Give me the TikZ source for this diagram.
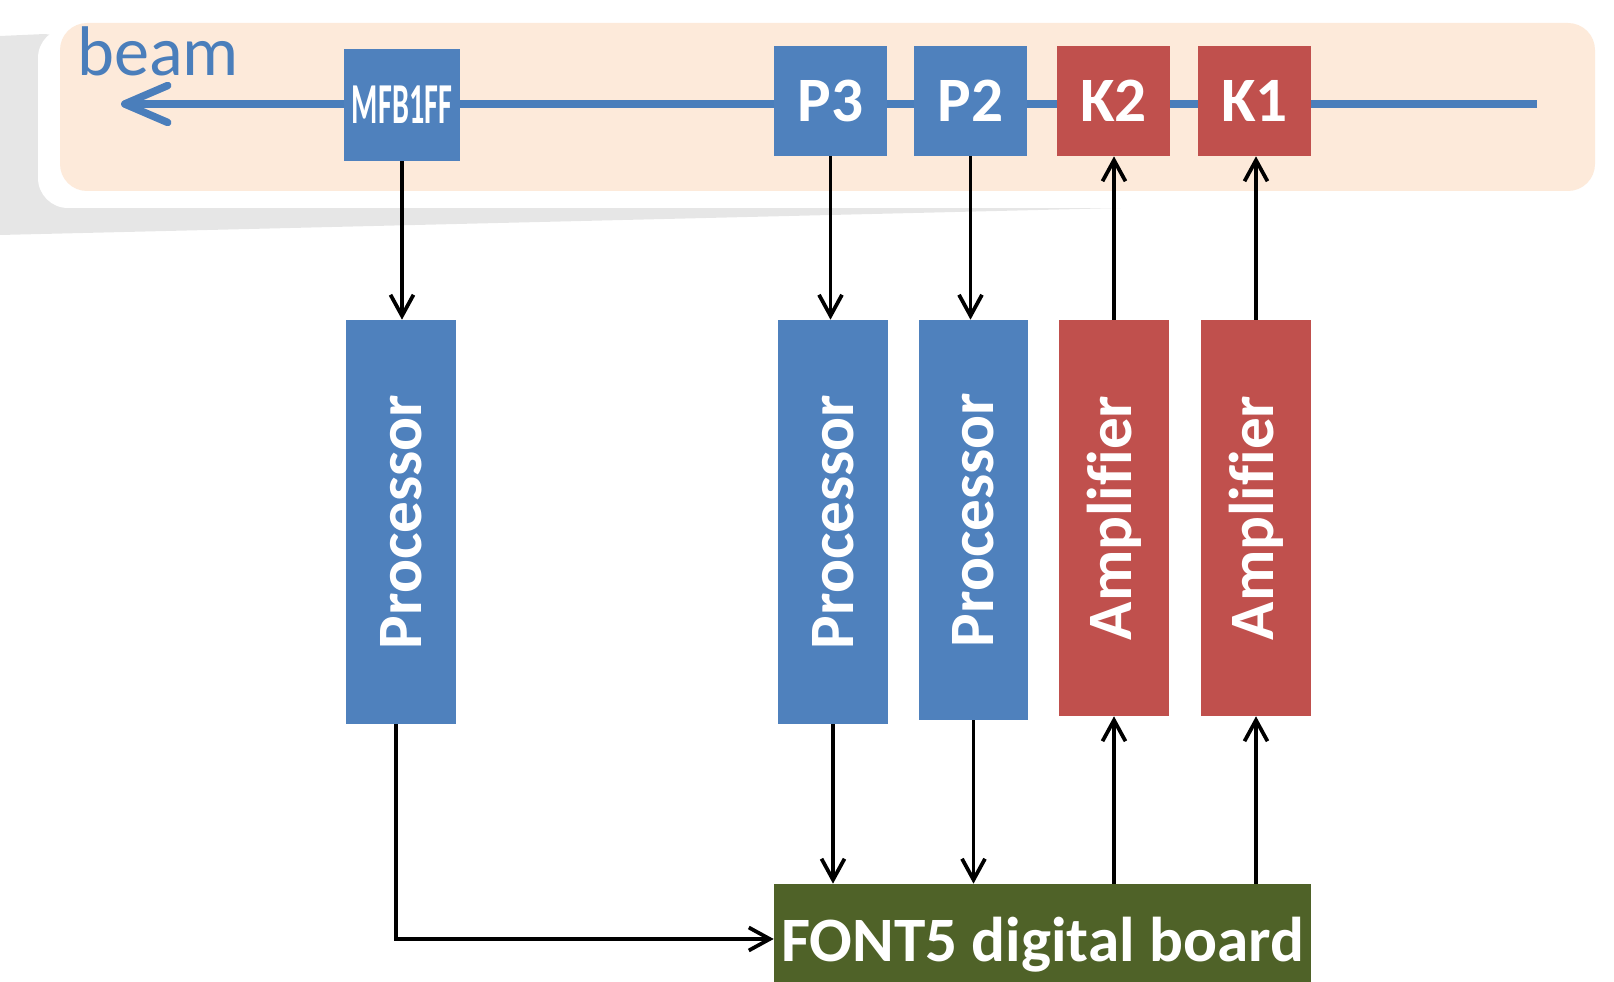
\documentclass[tikz,border=0pt]{standalone}
\usepackage{fontspec}
\setmainfont{Carlito}[Ligatures=CommonOff]
\usetikzlibrary{arrows.meta}
\definecolor{beamblue}{HTML}{4A7EBB}
\definecolor{boxblue}{HTML}{4F81BD}
\definecolor{boxred}{HTML}{C0504D}
\definecolor{boardgreen}{HTML}{4F6228}
\definecolor{beamzone}{HTML}{FDEADA}
\definecolor{shadegray}{HTML}{E6E6E6}

\begin{document}
\begin{tikzpicture}[x=0.02cm,y=-0.02cm,
    lbl/.style={text=white, inner sep=0pt, font=\fontsize{36}{40}\selectfont\bfseries},
    blk/.style={lbl, fill=#1},
    sig/.style={line width=0.075cm, -{Straight Barb[length=0.42cm,width=0.46cm]}}]
  \useasboundingbox (0,0) rectangle (1614,982);
  % beam line area
  \fill[shadegray] (0,36) -- (45,34) -- (1163,207) -- (0,235) -- cycle;
  \fill[white, rounded corners=0.6cm] (38,28) rectangle (1610,208);
  \fill[beamzone, rounded corners=0.54cm] (60,23) rectangle (1595,191);
  \coordinate (beamin) at (1537,104);
  \coordinate (beamout) at (121,104);
  \draw[beamblue, line width=0.15cm, -{Straight Barb[length=0.86cm,width=0.74cm,round]}] (beamin) -- (beamout);
  \node[anchor=base west, text=beamblue, inner sep=0pt, font=\fontsize{40}{44}\selectfont] (beamlbl) at (77,76) {beam};
  % monitors and kickers
  \node[blk=boxblue, minimum width=2.32cm, minimum height=2.24cm] (mfb) at (402,105) {\scalebox{0.52}[1]{\fontsize{33}{36}\selectfont MFB1FF}};
  \foreach \nm/\x/\col in {P3/830.5/boxblue, P2/970.5/boxblue, K2/1113.5/boxred, K1/1254.5/boxred}
    \node[blk=\col, minimum width=2.26cm, minimum height=2.2cm] (\nm) at (\x,101) {\nm};
  % electronics
  \foreach \nm/\x/\y/\h/\txt/\col in {
      procM/401/522/8.08/Processor/boxblue,
      procP3/833/522/8.08/Processor/boxblue,
      procP2/973.5/520/8.0/Processor/boxblue,
      ampK2/1114/518/7.92/Amplifier/boxred,
      ampK1/1256/518/7.92/Amplifier/boxred} {
    \node[blk=\col, minimum width=2.2cm, minimum height=\h cm] (\nm) at (\x,\y) {};
    \node[lbl, rotate=90] (\nm txt) at (\nm) {\txt};
  }
  \node[blk=boardgreen, minimum width=10.74cm, text height=1.56cm, text depth=0.4cm] (board) at (1042.5,933) {FONT5 digital board};
  % signals
  \foreach \a/\b in {mfb/procM, P3/procP3, P2/procP2}
    \draw[sig] (\a.south) -- (\a.south |- \b.north);
  \foreach \a/\b in {ampK2/K2, ampK1/K1}
    \draw[sig] (\a.north) -- (\a.north |- \b.south);
  \foreach \a in {procP3, procP2}
    \draw[sig] (\a.south) -- (\a.south |- board.north);
  \foreach \a in {ampK2, ampK1}
    \draw[sig] (\a.south |- board.north) -- (\a.south);
  \draw[sig] ([xshift=-0.1cm]procM.south) |- ([yshift=-0.12cm]board.west);
\end{tikzpicture}
\end{document}
